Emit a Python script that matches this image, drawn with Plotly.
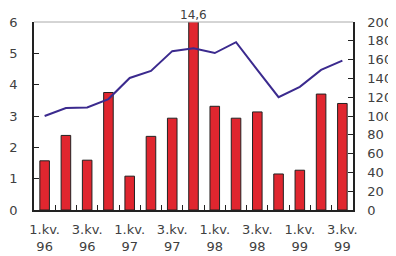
import plotly.graph_objects as go

quarters = ["1.kv. 96", "2.kv. 96", "3.kv. 96", "4.kv. 96",
            "1.kv. 97", "2.kv. 97", "3.kv. 97", "4.kv. 97",
            "1.kv. 98", "2.kv. 98", "3.kv. 98", "4.kv. 98",
            "1.kv. 99", "2.kv. 99", "3.kv. 99"]
bar_values = [1.57, 2.38, 1.59, 3.75, 1.08, 2.35, 2.93, 14.6,
              3.31, 2.93, 3.13, 1.15, 1.27, 3.70, 3.40]
line_values = [100, 108.5, 109, 118, 140.5, 148, 169, 172,
               167, 178.5, 149, 120, 131, 149, 159]
tick_labels = ["1.kv.<br>96", "", "3.kv.<br>96", "",
               "1.kv.<br>97", "", "3.kv.<br>97", "",
               "1.kv.<br>98", "", "3.kv.<br>98", "",
               "1.kv.<br>99", "", "3.kv.<br>99"]
left_ticks = [0, 1, 2, 3, 4, 5, 6]
right_ticks = [0, 20, 40, 60, 80, 100, 120, 140, 160, 180, 200]
left_max = 6

FONT = "DejaVu Sans, Liberation Sans, sans-serif"
TXT = "#404040"

fig = go.Figure()
fig.add_trace(go.Bar(x=quarters, y=bar_values, marker=dict(color="#E0262F", line=dict(color="#222222", width=1)),
                     yaxis="y", showlegend=False))
fig.add_trace(go.Scatter(x=quarters, y=line_values, mode="lines", line=dict(color="#3B2A8E", width=2),
                         yaxis="y2", showlegend=False))

for q, v in zip(quarters, bar_values):
    if v > left_max:
        fig.add_annotation(x=q, y=left_max, yref="y", text=f"{v:.1f}".replace(".", ","),
                           showarrow=False, yanchor="bottom", yshift=-1, borderpad=0,
                           font=dict(family=FONT, size=12, color=TXT))

fig.add_shape(type="line", xref="paper", yref="paper", x0=0, x1=1, y0=1, y1=1,
              line=dict(color="#aaaaaa", width=1))

# page body has an 8px margin: figure is 388x248 placed at (8, 8)
fig.update_layout(
    width=388, height=248,
    margin=dict(l=26, r=43, t=14, b=46),
    paper_bgcolor="white", plot_bgcolor="white",
    bargap=0.55,
    font=dict(family=FONT, size=13, color=TXT),
    xaxis=dict(type="category", tickmode="array", tickvals=quarters, ticktext=tick_labels,
               tickson="boundaries", ticks="inside", ticklen=5, tickcolor="#222222",
               showline=True, linecolor="#222222", linewidth=1.5, showgrid=False,
               range=[-0.5, len(quarters) - 0.5], tickfont=dict(size=13), tickangle=0,
               automargin=False, ticklabelstandoff=7),
    yaxis=dict(range=[0, left_max], tickvals=left_ticks, ticks="inside", ticklen=5,
               tickcolor="#222222", showline=True, linecolor="#222222", linewidth=1.5,
               showgrid=False, zeroline=False, ticklabelstandoff=12, automargin=False),
    yaxis2=dict(range=[0, 200], tickvals=right_ticks, overlaying="y", side="right",
                ticks="inside", ticklen=5, tickcolor="#222222", showline=True,
                linecolor="#222222", linewidth=1.5, showgrid=False, zeroline=False,
                ticklabelstandoff=10, automargin=False),
)

fig.write_html("out.html")
